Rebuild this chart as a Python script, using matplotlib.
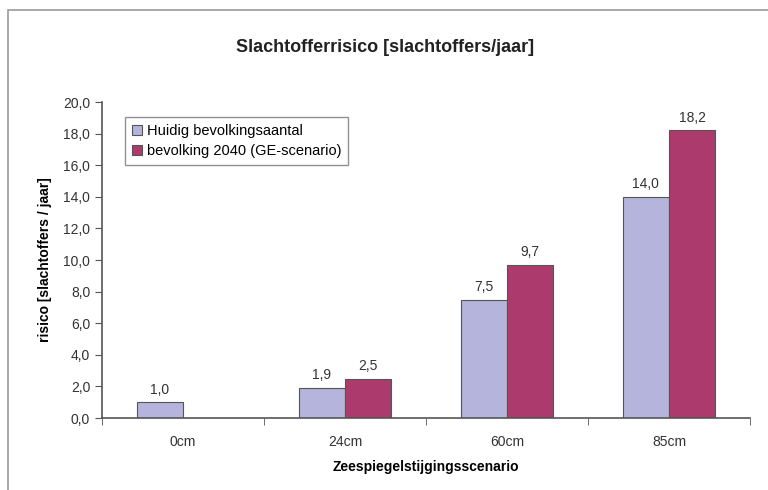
import matplotlib
matplotlib.use("Agg")
from matplotlib import pyplot as plt
from matplotlib.patches import Rectangle
import numpy as np

plt.rcParams['font.family'] = ['Liberation Sans', 'DejaVu Sans']

categories = ['0cm', '24cm', '60cm', '85cm']
huidig = [1.0, 1.9, 7.5, 14.0]
bevolking_2040 = [np.nan, 2.5, 9.7, 18.2]
series_names = ['Huidig bevolkingsaantal', 'bevolking 2040 (GE-scenario)']
yticks = np.arange(0, 20.1, 2.0)


def comma(v):
    return f"{v:.1f}".replace('.', ',')


fig = plt.figure(figsize=(7.68, 4.9), dpi=100)
# outer chart frame, only the left and top edges fall inside the picture
fig.patches.append(Rectangle((8 / 768, -0.1), 1.0, 480 / 490 + 0.1, transform=fig.transFigure,
                             fill=False, edgecolor='#9a9a9a', linewidth=1.2))
ax = fig.add_axes([102 / 768, 72 / 490, 648 / 768, 316 / 490])

x = np.arange(len(categories))
w = 0.285
b1 = ax.bar(x - w / 2, huidig, w, color='#b4b4dc', edgecolor='#555555', linewidth=0.8,
            label=series_names[0])
b2 = ax.bar(x + w / 2, bevolking_2040, w, color='#ad3a6c', edgecolor='#555555', linewidth=0.8,
            label=series_names[1])

for bars, vals in [(b1, huidig), (b2, bevolking_2040)]:
    for r, v in zip(bars, vals):
        if np.isnan(v):
            continue
        ax.text(r.get_x() + r.get_width() / 2, v + 0.35, comma(v), ha='center', va='bottom',
                fontsize=10, color='#333333')

ax.set_xlim(-0.5, len(categories) - 0.5)
ax.set_ylim(0, 20)
ax.set_yticks(yticks)
ax.set_yticklabels([comma(v) for v in yticks], fontsize=10, color='#333333')
ax.set_xticks(x)
ax.set_xticklabels(categories, fontsize=10, color='#333333')
ax.tick_params(axis='x', length=0, pad=12)
ax.set_xticks(np.arange(-0.5, len(categories), 1.0), minor=True)
ax.tick_params(axis='x', which='minor', length=5, direction='out', color='#555555')
ax.tick_params(axis='y', length=5, direction='out', color='#555555')

for s in ['top', 'right']:
    ax.spines[s].set_visible(False)
for s in ['left', 'bottom']:
    ax.spines[s].set_color('#555555')
    ax.spines[s].set_linewidth(1.2)

ax.set_ylabel('risico [slachtoffers / jaar]', fontsize=10, fontweight='bold', labelpad=8)
ax.set_xlabel('Zeespiegelstijgingsscenario', fontsize=10, fontweight='bold', labelpad=8)
fig.text(385 / 768, 1 - 47 / 490, 'Slachtofferrisico [slachtoffers/jaar]', ha='center', va='center',
         fontsize=13, fontweight='bold', color='#222222')

leg = ax.legend(loc='upper left', bbox_to_anchor=(0.025, 0.975), fontsize=10.5, frameon=True,
                fancybox=False, edgecolor='#777777', handlelength=0.7, handleheight=0.7,
                handletextpad=0.3, borderpad=0.45, labelspacing=0.45)
leg.get_frame().set_linewidth(1.0)

fig.savefig('out.png', dpi=100)
